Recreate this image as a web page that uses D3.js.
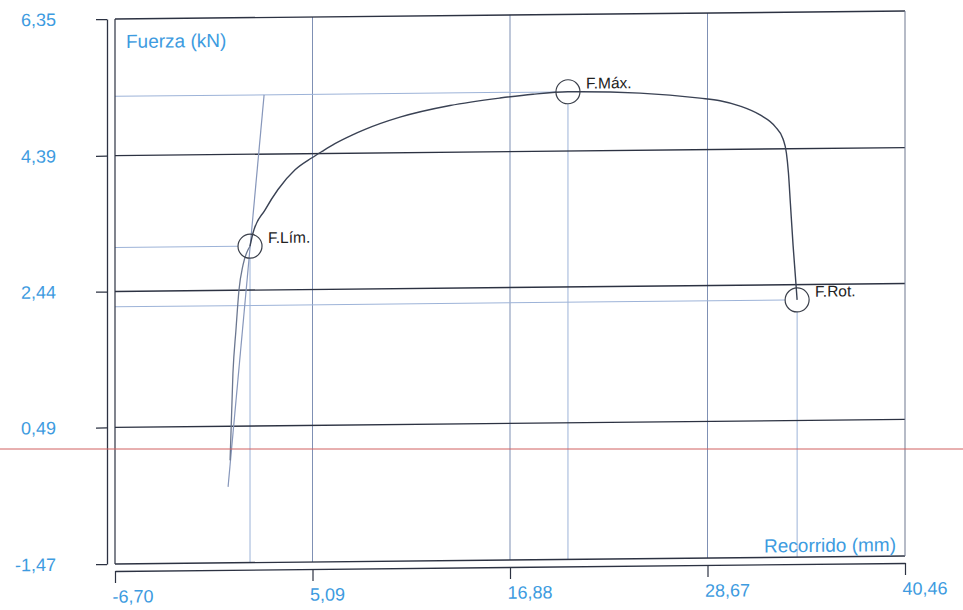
<!DOCTYPE html>
<html><head><meta charset="utf-8">
<script src="https://cdn.jsdelivr.net/npm/d3@7"></script>
<style>body{margin:0;background:#fff}svg{display:block}</style>
</head><body>
<svg id="c" width="963" height="610"></svg>
<script>
// ---- data ----
const yTicks = [6.35, 4.39, 2.44, 0.49, -1.47];
const xTicks = [-6.70, 5.09, 16.88, 28.67, 40.46];
const curveX = [0.17, 0.34, 0.52, 0.70, 0.94, 1.24, 1.36, 1.54, 2.26, 3.03, 4.05, 5.06, 5.66, 6.43, 7.45, 8.23, 10.31, 13.30, 16.28, 18.25, 20.34, 24.64, 28.22, 29.42, 30.62, 31.81, 32.71, 33.18, 33.38, 33.50, 33.62, 33.78, 33.92, 34.02];
const curveY = [0.00, 1.25, 1.87, 2.44, 2.80, 3.02, 3.07, 3.26, 3.59, 3.88, 4.16, 4.33, 4.42, 4.53, 4.65, 4.73, 4.90, 5.06, 5.16, 5.21, 5.24, 5.21, 5.13, 5.09, 5.01, 4.88, 4.71, 4.53, 4.33, 4.05, 3.60, 3.00, 2.55, 2.22];
const elasticX = [0.05, 2.20];
const elasticY = [-0.38, 5.24];
const markerNames = ["F.Lím.", "F.Máx.", "F.Rot."];
const markerX = [1.36, 20.34, 34.02];
const markerY = [3.07, 5.24, 2.22];
const yTitle = "Fuerza (kN)";
const xTitle = "Recorrido (mm)";

// ---- layout ----
const svg = d3.select("#c");
const L = 115, R = 905, T = 15, B = 560;
const x = d3.scaleLinear().domain([-6.70, 40.46]).range([L, R]);
const y = d3.scaleLinear().domain([-1.47, 6.35]).range([B, T]);
const fmt = v => v.toFixed(2).replace(".", ",");
const blue = "#3d9be0", dark = "#2c3242", grid = "#7f90b4", proj = "#9db3d8";
const FONT = "Arial, 'Liberation Sans', sans-serif";

// scanned page is slightly skewed: horizontal lines rise to the right
const g = svg.append("g").attr("transform", "matrix(1,-0.0101,0,1,0,5.15)");

// vertical gridlines
g.selectAll("line.vg").data(xTicks.slice(1, 4)).join("line")
  .attr("x1", d => x(d)).attr("x2", d => x(d)).attr("y1", T).attr("y2", B)
  .attr("stroke", grid).attr("stroke-width", 1);

// projection lines for markers
markerX.forEach((mx, i) => {
  g.append("line").attr("x1", x(mx)).attr("x2", x(mx)).attr("y1", y(markerY[i]) + 12).attr("y2", B)
    .attr("stroke", proj).attr("stroke-width", 1);
  g.append("line").attr("x1", L).attr("x2", x(mx) - 12).attr("y1", y(markerY[i])).attr("y2", y(markerY[i]))
    .attr("stroke", proj).attr("stroke-width", 1);
});

// horizontal gridlines + frame
g.selectAll("line.hg").data(yTicks).join("line")
  .attr("x1", L).attr("x2", R).attr("y1", d => y(d)).attr("y2", d => y(d))
  .attr("stroke", dark).attr("stroke-width", 1.4);
g.append("line").attr("x1", L).attr("x2", L).attr("y1", T).attr("y2", B).attr("stroke", dark).attr("stroke-width", 1.2);
g.append("line").attr("x1", R).attr("x2", R).attr("y1", T).attr("y2", B).attr("stroke", "#6f7890").attr("stroke-width", 1);

// axes
const ax = g.append("g").attr("transform", "translate(107,0)")
  .call(d3.axisLeft(y).tickValues(yTicks).tickSize(11).tickSizeOuter(0).tickPadding(40).tickFormat(fmt));
const bx = g.append("g").attr("transform", "translate(0,567)")
  .call(d3.axisBottom(x).tickValues(xTicks).tickSize(12).tickSizeOuter(0).tickPadding(7).tickFormat(fmt));
[ax, bx].forEach(a => {
  a.select(".domain").attr("stroke", dark).attr("stroke-width", 1.3);
  a.selectAll(".tick line").attr("stroke", dark).attr("stroke-width", 1.2);
  a.selectAll("text").attr("fill", blue).style("font-family", FONT).style("font-size", "18px");
});
bx.selectAll(".tick text").attr("text-anchor", "start").attr("dx", -3);

// axis titles
g.append("text").attr("x", 126).attr("y", 44).text(yTitle)
  .attr("fill", blue).style("font-family", FONT).style("font-size", "19px");
g.append("text").attr("x", 896).attr("y", 555).attr("text-anchor", "end").text(xTitle)
  .attr("fill", blue).style("font-family", FONT).style("font-size", "19px");

// elastic line
g.append("path").datum(elasticX.map((v, i) => [v, elasticY[i]]))
  .attr("d", d3.line().x(d => x(d[0])).y(d => y(d[1])))
  .attr("fill", "none").attr("stroke", "#8797bb").attr("stroke-width", 1.2);

// curve
const pts = curveX.map((v, i) => [v, curveY[i]]);
const line = d3.line().x(d => x(d[0])).y(d => y(d[1])).curve(d3.curveMonotoneX);
g.append("path").datum(pts.slice(0, 7)).attr("d", line)
  .attr("fill", "none").attr("stroke", "#6b7790").attr("stroke-width", 1.3);
g.append("path").datum(pts.slice(6)).attr("d", line)
  .attr("fill", "none").attr("stroke", "#3a4254").attr("stroke-width", 1.4);

// markers
markerX.forEach((mx, i) => {
  g.append("circle").attr("cx", x(mx)).attr("cy", y(markerY[i])).attr("r", 12)
    .attr("fill", "none").attr("stroke", "#3a3f4a").attr("stroke-width", 1.2);
  g.append("text").attr("x", x(mx) + 18).attr("y", y(markerY[i]) - 3).text(markerNames[i])
    .attr("fill", "#222").style("font-family", FONT).style("font-size", "15.5px");
});

// red scan line
svg.append("line").attr("x1", 0).attr("x2", 963).attr("y1", 449).attr("y2", 449)
  .attr("stroke", "#d06060").attr("stroke-width", 1);
</script>
</body></html>
